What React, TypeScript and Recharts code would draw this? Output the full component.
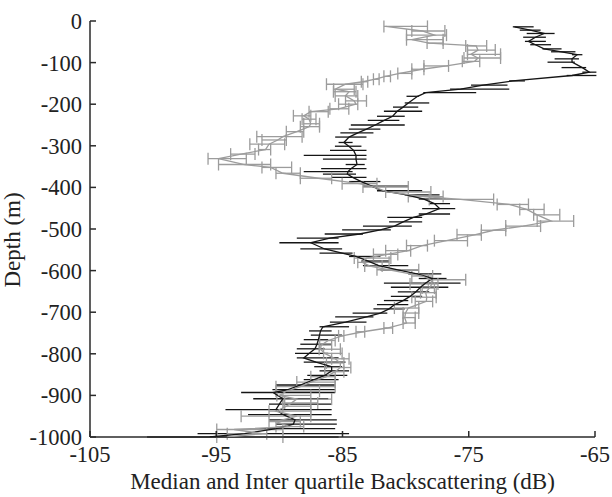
import React from "react";
import { ScatterChart, Scatter, XAxis, YAxis, ErrorBar, Label } from "recharts";

// ── Data ──────────────────────────────────────────────────────────────────────

const xTicks = [-105, -95, -85, -75, -65];
const yTicks = [0, -100, -200, -300, -400, -500, -600, -700, -800, -900, -1000];

// black series: median + inter quartile range
const blackDepth = [
  -14, -22, -30, -39, -49, -57, -67, -74, -81, -91, -99, -112, -123, -131, -144, -154, -164,
  -172, -181, -197, -207, -217, -229, -239, -250, -260, -269, -279, -292, -301, -311, -323, -332,
  -345, -355, -362, -368, -376, -386, -397, -408, -418, -428, -439, -451, -464, -472, -483, -493,
  -502, -512, -522, -533, -548, -558, -566, -577, -588, -598, -608, -619, -630, -640, -651, -662,
  -672, -682, -692, -702, -711, -724, -735, -745, -755, -766, -777, -788, -799, -810, -820, -831,
  -841, -852, -862, -875, -886, -893, -908, -921, -934, -946, -959, -969, -980, -992, -1000,
];
const blackMedian = [
  -71.38, -70.13, -69.03, -69.72, -70.27, -69.72, -69.03, -67.65, -66.41, -66.82, -66.82, -66.0, -65.45, -66.82, -71.51, -73.86, -75.65,
  -78.41, -79.05, -79.79, -80.2, -80.67, -81.03, -81.7, -82.41, -83.1, -83.79, -84.48, -84.89, -84.5, -84.12, -83.93, -83.93,
  -83.85, -84.34, -84.56, -84.62, -84.2, -83.51, -82.69, -81.86, -79.93, -78.55, -77.72, -77.31, -78.41, -79.38, -80.2, -80.89,
  -82.0, -83.65, -86.0, -87.51, -86.41, -85.03, -83.93, -82.96, -82.13, -80.62, -79.1, -77.86, -78.41, -78.82, -79.18, -79.65,
  -80.2, -80.89, -81.31, -82.0, -83.1, -84.76, -86.55, -86.74, -86.82, -86.91, -87.02, -87.18, -87.65, -88.07, -87.1, -85.86,
  -85.86, -86.41, -87.24, -88.34, -89.31, -90.49, -89.72, -90.0, -90.27, -89.72, -88.76, -88.89, -90.27, -92.76, -95.51,
];
const blackQ1 = [
  -71.51, -70.96, -70.41, -70.69, -70.55, -70.13, -69.17, -68.48, -66.82, -68.2, -68.76, -67.65, -66.0, -67.24, -71.8, -74.82, -76.48,
  -78.6, -79.93, -80.07, -81.0, -81.72, -82.27, -83.0, -84.34, -84.5, -85.17, -85.58, -85.31, -85.6, -85.99, -88.07, -86.55,
  -84.75, -86.69, -88.07, -86.55, -85.86, -84.48, -83.38, -82.27, -80.07, -78.96, -78.13, -78.69, -78.96, -81.45, -81.31, -83.38,
  -85.03, -86.41, -88.62, -90.0, -88.34, -86.82, -84.48, -83.51, -83.38, -82.0, -79.79, -78.96, -81.72, -81.17, -80.62, -81.17,
  -81.72, -82.27, -82.55, -84.2, -85.58, -86.0, -86.82, -87.65, -87.51, -88.07, -88.34, -88.62, -88.76, -88.62, -88.07, -87.24,
  -86.82, -87.79, -88.07, -90.27, -90.55, -93.03, -92.07, -90.82, -94.27, -92.48, -90.82, -90.27, -91.93, -96.48, -100.48,
];
const blackQ3 = [
  -69.86, -69.31, -68.2, -68.89, -68.89, -68.48, -67.65, -66.55, -66.0, -66.27, -66.6, -65.7, -64.89, -64.89, -70.55, -71.93, -71.79,
  -74.41, -78.96, -78.13, -79.0, -78.69, -80.07, -80.5, -80.07, -82.0, -82.55, -83.1, -84.2, -83.5, -83.1, -83.1, -83.1,
  -83.24, -83.1, -84.2, -83.93, -83.1, -82.0, -79.79, -78.69, -77.31, -76.76, -76.48, -76.07, -76.48, -78.69, -78.69, -79.51,
  -81.17, -83.38, -85.31, -85.31, -85.03, -84.2, -82.0, -81.31, -79.79, -78.96, -77.17, -76.76, -75.65, -76.62, -78.13, -78.69,
  -79.79, -79.79, -80.07, -81.45, -82.55, -83.1, -84.48, -85.86, -85.03, -86.13, -85.86, -86.41, -86.13, -85.31, -84.76, -85.03,
  -84.48, -84.62, -85.31, -85.58, -85.58, -85.58, -86.13, -85.86, -85.86, -85.86, -85.45, -85.45, -85.58, -84.48, -85.31,
];

// grey series: median + inter quartile range
const greyDepth = [
  -13, -24, -34, -45, -53, -60, -70, -80, -89, -97, -108, -116, -126, -133, -140, -146, -152, -164,
  -170, -180, -192, -200, -211, -218, -228, -236, -247, -254, -266, -278, -286, -296, -309, -320, -331,
  -345, -352, -366, -378, -391, -399, -411, -422, -429, -441, -453, -466, -481, -493, -503, -514, -528,
  -540, -552, -561, -570, -580, -589, -598, -613, -622, -632, -642, -653, -664, -674, -690, -702, -713,
  -726, -738, -747, -757, -768, -779, -789, -799, -812, -822, -833, -843, -855, -868, -879, -890, -900,
  -909, -918, -926, -938, -950, -963, -975, -982, -992, -1000,
];
const greyMedian = [
  -81.58, -78.69, -77.72, -79.51, -78.13, -74.41, -74.27, -74.82, -74.27, -74.55, -76.76, -78.69, -80.48, -81.58, -82.41, -83.38, -84.76, -85.58,
  -84.48, -84.76, -84.07, -83.93, -85.31, -87.51, -88.07, -87.65, -87.51, -87.65, -88.62, -89.72, -90.13, -90.82, -91.1, -93.03, -94.82,
  -92.76, -90.69, -89.72, -86.91, -83.65, -82.55, -81.45, -78.41, -75.65, -71.79, -70.41, -69.58, -68.48, -70.69, -73.03, -74.55, -76.76,
  -78.69, -79.79, -81.45, -83.1, -83.43, -82.83, -81.31, -78.69, -77.99, -77.91, -78.13, -78.41, -78.33, -78.36, -79.79, -80.01, -80.07,
  -79.93, -81.45, -83.38, -85.03, -86.13, -86.69, -86.74, -86.41, -85.58, -85.17, -85.17, -85.58, -86.27, -87.51, -88.34, -89.45, -90.0,
  -88.62, -89.03, -89.45, -90.27, -88.62, -90.27, -89.17, -93.58, -91.38, -94.13,
];
const greyQ1 = [
  -81.72, -79.51, -79.93, -79.93, -78.3, -75.24, -75.1, -75.1, -75.38, -75.51, -78.55, -79.51, -80.62, -81.72, -82.55, -83.51, -86.27, -85.7,
  -85.72, -85.58, -84.76, -85.31, -86.0, -87.65, -88.89, -88.2, -88.07, -88.34, -89.45, -91.79, -91.38, -92.34, -91.65, -93.86, -95.65,
  -94.82, -91.38, -90.27, -88.34, -85.03, -83.38, -81.58, -79.79, -78.13, -72.75, -70.96, -69.86, -69.58, -72.07, -74.0, -75.93, -77.72,
  -79.93, -81.58, -82.55, -84.07, -83.79, -83.24, -82.27, -79.51, -78.2, -79.65, -78.69, -78.82, -79.51, -79.24, -80.89, -80.2, -80.2,
  -80.2, -81.72, -83.93, -85.31, -86.82, -86.82, -86.85, -86.5, -85.86, -86.27, -86.41, -86.41, -87.51, -88.62, -90.27, -90.27, -90.2,
  -89.72, -89.58, -89.72, -90.82, -93.03, -90.82, -90.27, -94.96, -94.13, -94.96,
];
const greyQ3 = [
  -78.27, -76.89, -76.76, -77.03, -77.03, -73.58, -72.9, -72.48, -72.48, -74.13, -76.6, -78.55, -79.51, -81.2, -82.1, -83.0, -83.38, -84.07,
  -83.93, -83.79, -83.1, -83.79, -84.5, -86.13, -87.51, -87.1, -86.82, -86.82, -88.07, -88.2, -89.45, -89.58, -90.69, -91.93, -92.62,
  -90.69, -89.03, -88.34, -85.86, -82.27, -79.79, -78.0, -77.03, -73.03, -70.27, -69.03, -67.79, -66.69, -69.31, -72.07, -74.0, -75.1,
  -78.27, -79.6, -80.62, -81.17, -81.31, -81.86, -78.96, -77.86, -75.24, -77.44, -77.72, -77.58, -77.58, -77.86, -78.96, -78.96, -79.24,
  -79.24, -81.03, -83.24, -84.89, -85.58, -85.86, -85.17, -85.03, -84.48, -84.89, -84.34, -84.89, -85.58, -85.58, -85.58, -86.82, -87.51,
  -85.86, -86.96, -87.51, -87.51, -87.51, -88.34, -88.07, -89.72, -91.0, -89.72,
];

// ── Helpers ───────────────────────────────────────────────────────────────────

const buildRows = (depth: number[], med: number[], q1: number[], q3: number[]) =>
  depth.map((d, i) => ({
    x: med[i],
    y: d,
    iqr: [Math.max(0, med[i] - q1[i]), Math.max(0, q3[i] - med[i])],
  }));

const blackRows = buildRows(blackDepth, blackMedian, blackQ1, blackQ3);
const greyRows = buildRows(greyDepth, greyMedian, greyQ1, greyQ3);

const FONT = '"Liberation Serif", "DejaVu Serif", serif';
const AXIS = "#2a2a2a";
const BLACK = "#151515";
const GREY = "#9c9c9c";

const tickStyle = { fill: "#222", fontSize: 22.5, style: { fontFamily: FONT } };
const noShape = () => <g />;

export default function App() {
  return (
    <div
      style={{
        position: "absolute", left: 0, top: 0, width: 612, height: 497,
        background: "#fff", fontFamily: FONT,
      }}
    >
      <ScatterChart
        width={612}
        height={497}
        margin={{ top: 21, right: 17, left: 30, bottom: 0 }}
        style={{ fontFamily: FONT }}
      >
        <XAxis
          type="number"
          dataKey="x"
          domain={[-105, -65]}
          ticks={xTicks}
          allowDataOverflow
          height={60}
          tick={tickStyle}
          tickSize={-6}
          tickMargin={15}
          axisLine={{ stroke: AXIS, strokeWidth: 1.5 }}
          tickLine={{ stroke: AXIS, strokeWidth: 1.5 }}
        >
          <Label
            content={() => (
              <text x={342.5} y={489} textAnchor="middle" fill="#222" fontSize={23} style={{ fontFamily: FONT }}>
                Median and Inter quartile Backscattering (dB)
              </text>
            )}
          />
        </XAxis>
        <YAxis
          type="number"
          dataKey="y"
          domain={[-1000, 0]}
          ticks={yTicks}
          allowDataOverflow
          width={60}
          tick={tickStyle}
          tickSize={-6}
          tickMargin={14}
          axisLine={{ stroke: AXIS, strokeWidth: 1.5 }}
          tickLine={{ stroke: AXIS, strokeWidth: 1.5 }}
        >
          <Label
            content={() => (
              <text
                x={20}
                y={240}
                transform="rotate(-90 20 240)"
                textAnchor="middle"
                fill="#222"
                fontSize={23}
                style={{ fontFamily: FONT }}
              >
                Depth (m)
              </text>
            )}
          />
        </YAxis>

        <Scatter
          data={blackRows}
          shape={noShape}
          line={{ stroke: BLACK, strokeWidth: 1.3 }}
          lineType="joint"
          isAnimationActive={false}
        >
          <ErrorBar dataKey="iqr" direction="x" width={0} stroke={BLACK} strokeWidth={1.3} isAnimationActive={false} />
        </Scatter>
        <Scatter
          data={greyRows}
          shape={noShape}
          line={{ stroke: GREY, strokeWidth: 1.3 }}
          lineType="joint"
          isAnimationActive={false}
        >
          <ErrorBar dataKey="iqr" direction="x" width={6} stroke={GREY} strokeWidth={1.3} isAnimationActive={false} />
        </Scatter>
      </ScatterChart>
    </div>
  );
}
